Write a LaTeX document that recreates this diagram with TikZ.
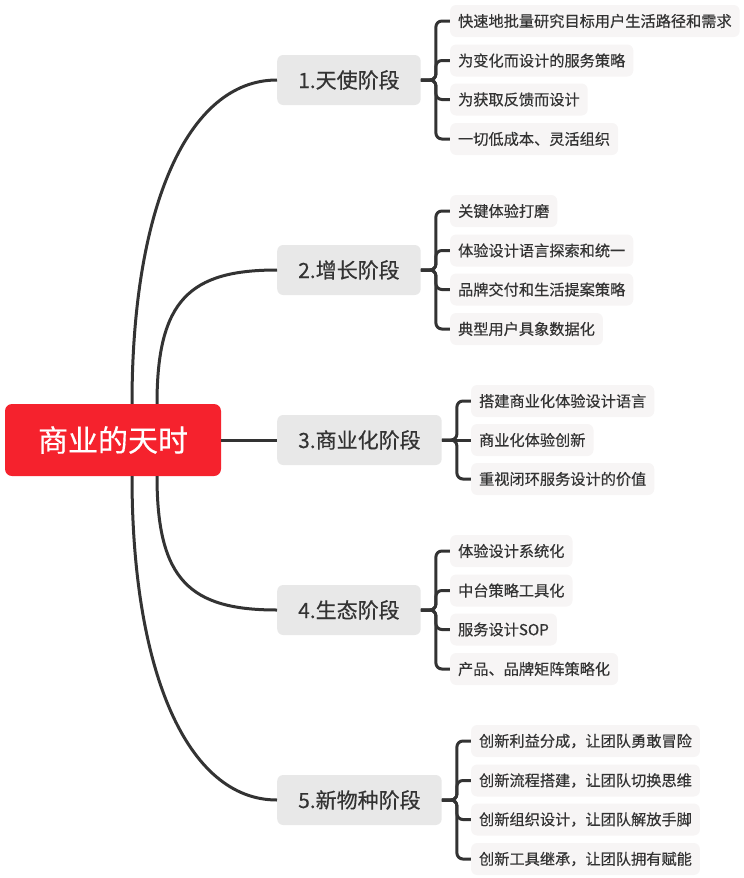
\documentclass[tikz,border=0pt]{standalone}
\usepackage{fontspec}
\newfontfamily\cjk[FakeBold=0.4]{Noto Sans CJK SC}
\usepackage{tikz}
\usetikzlibrary{positioning}
\definecolor{rootred}{HTML}{F5222D}
\definecolor{stagegray}{HTML}{E8E8E8}
\definecolor{leafgray}{HTML}{F7F5F5}
\definecolor{inkgray}{HTML}{333333}

\begin{document}
\begin{tikzpicture}[x=1pt,y=1pt]
			\tikzstyle{every node}+=[font=\cjk, text=inkgray]
			\tikzstyle{rootbox}=[fill=rootred, text=white, rounded corners=7pt, minimum width=216pt, minimum height=72pt, font=\cjk\fontsize{30}{34}\selectfont]
			\tikzstyle{stagebox}=[fill=stagegray, rounded corners=6pt, inner xsep=21pt, minimum height=50pt, font=\cjk\fontsize{21}{25}\selectfont]
			\tikzstyle{leafbox}=[fill=leafgray, rounded corners=6pt, inner xsep=8pt, minimum height=32pt, font=\cjk\fontsize{15.2}{18}\selectfont]
			\tikzstyle{link}=[draw=inkgray, line width=3pt]
			\tikzstyle{fork}=[link, rounded corners=6pt]
			\useasboundingbox (0,0) rectangle (744,-878);
			% centre and stages
			\node [rootbox] (root) at (113,-440) {商业的天时};
			\node [stagebox, anchor=west] (s1) at (277,-80) {1.天使阶段};
			\node [stagebox, anchor=west] (s2) at (277,-270) {2.增长阶段};
			\node [stagebox, anchor=west] (s3) at (277,-440) {3.商业化阶段};
			\node [stagebox, anchor=west] (s4) at (277,-610) {4.生态阶段};
			\node [stagebox, anchor=west] (s5) at (277,-800) {5.新物种阶段};
			\draw [link] ([xshift=19pt]root.north) .. controls +(0,195) and +(-90,0) .. (s1.west);
			\draw [link] ([xshift=44pt]root.north) .. controls +(0,104) and +(-87,0) .. (s2.west);
			\draw [link] (root.east) -- (s3.west);
			\draw [link] ([xshift=44pt]root.south) .. controls +(0,-104) and +(-87,0) .. (s4.west);
			\draw [link] ([xshift=19pt]root.south) .. controls +(0,-195) and +(-90,0) .. (s5.west);
			% 1
			\node [leafbox, right=29pt of s1, yshift=59pt] (a1) {快速地批量研究目标用户生活路径和需求};
			\node [leafbox, right=29pt of s1, yshift=19.5pt] (a2) {为变化而设计的服务策略};
			\node [leafbox, right=29pt of s1, yshift=-19.5pt] (a3) {为获取反馈而设计};
			\node [leafbox, right=29pt of s1, yshift=-59pt] (a4) {一切低成本、灵活组织};
			\draw [fork] (s1.east) -- ++(15,0) |- (a1.west);
			\draw [fork] (s1.east) -- ++(15,0) |- (a2.west);
			\draw [fork] (s1.east) -- ++(15,0) |- (a3.west);
			\draw [fork] (s1.east) -- ++(15,0) |- (a4.west);
			% 2
			\node [leafbox, right=29pt of s2, yshift=59pt] (b1) {关键体验打磨};
			\node [leafbox, right=29pt of s2, yshift=19.5pt] (b2) {体验设计语言探索和统一};
			\node [leafbox, right=29pt of s2, yshift=-19.5pt] (b3) {品牌交付和生活提案策略};
			\node [leafbox, right=29pt of s2, yshift=-59pt] (b4) {典型用户具象数据化};
			\draw [fork] (s2.east) -- ++(15,0) |- (b1.west);
			\draw [fork] (s2.east) -- ++(15,0) |- (b2.west);
			\draw [fork] (s2.east) -- ++(15,0) |- (b3.west);
			\draw [fork] (s2.east) -- ++(15,0) |- (b4.west);
			% 3
			\node [leafbox, right=29pt of s3, yshift=39pt] (c1) {搭建商业化体验设计语言};
			\node [leafbox, right=29pt of s3] (c2) {商业化体验创新};
			\node [leafbox, right=29pt of s3, yshift=-39pt] (c3) {重视闭环服务设计的价值};
			\draw [fork] (s3.east) -- ++(15,0) |- (c1.west);
			\draw [fork] (s3.east) -- (c2.west);
			\draw [fork] (s3.east) -- ++(15,0) |- (c3.west);
			% 4
			\node [leafbox, right=29pt of s4, yshift=59pt] (d1) {体验设计系统化};
			\node [leafbox, right=29pt of s4, yshift=19.5pt] (d2) {中台策略工具化};
			\node [leafbox, right=29pt of s4, yshift=-19.5pt] (d3) {服务设计SOP};
			\node [leafbox, right=29pt of s4, yshift=-59pt] (d4) {产品、品牌矩阵策略化};
			\draw [fork] (s4.east) -- ++(15,0) |- (d1.west);
			\draw [fork] (s4.east) -- ++(15,0) |- (d2.west);
			\draw [fork] (s4.east) -- ++(15,0) |- (d3.west);
			\draw [fork] (s4.east) -- ++(15,0) |- (d4.west);
			% 5
			\node [leafbox, right=29pt of s5, yshift=59pt] (e1) {创新利益分成，让团队勇敢冒险};
			\node [leafbox, right=29pt of s5, yshift=19.5pt] (e2) {创新流程搭建，让团队切换思维};
			\node [leafbox, right=29pt of s5, yshift=-19.5pt] (e3) {创新组织设计，让团队解放手脚};
			\node [leafbox, right=29pt of s5, yshift=-59pt] (e4) {创新工具继承，让团队拥有赋能};
			\draw [fork] (s5.east) -- ++(15,0) |- (e1.west);
			\draw [fork] (s5.east) -- ++(15,0) |- (e2.west);
			\draw [fork] (s5.east) -- ++(15,0) |- (e3.west);
			\draw [fork] (s5.east) -- ++(15,0) |- (e4.west);
\end{tikzpicture}
\end{document}
